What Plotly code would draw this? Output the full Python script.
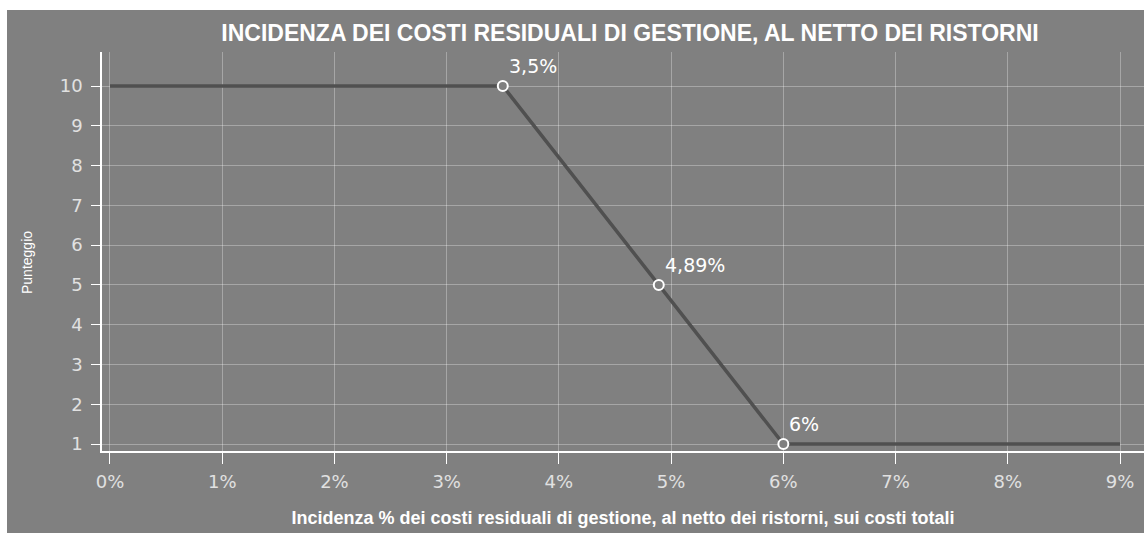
import plotly.graph_objects as go

# Data
x_pct = [0, 3.5, 4.89, 6, 9]
punteggio = [10, 10, 5, 1, 1]
key_x = [3.5, 4.89, 6]
key_y = [10, 5, 1]
key_labels = ["3,5%", "4,89%", "6%"]
x_ticks = [0, 1, 2, 3, 4, 5, 6, 7, 8, 9]
x_ticktext = ["0%", "1%", "2%", "3%", "4%", "5%", "6%", "7%", "8%", "9%"]
y_ticks = [1, 2, 3, 4, 5, 6, 7, 8, 9, 10]

GRAY = "rgb(128,128,128)"
W, H = 1144, 533
L, R, T, B = 102, 0, 52, 82
pw, ph = W - L - R, H - T - B

fig = go.Figure()
fig.add_trace(go.Scatter(
    x=x_pct, y=punteggio, mode="lines",
    line=dict(color="rgb(80,80,80)", width=3.5),
    hoverinfo="skip", showlegend=False))
fig.add_trace(go.Scatter(
    x=key_x, y=key_y, mode="markers",
    marker=dict(symbol="circle", size=10, color=GRAY,
                line=dict(color="white", width=2)),
    showlegend=False))

for xv, yv, lab in zip(key_x, key_y, key_labels):
    fig.add_annotation(x=xv, y=yv, text=lab, showarrow=False,
                       xanchor="left", yanchor="bottom", xshift=4, yshift=7,
                       font=dict(family="DejaVu Sans", size=19, color="white"))

# y axis title (placed slightly below plot centre as in the reference)
fig.add_annotation(x=(27 - L) / pw, y=(T + ph - 263) / ph, xref="paper", yref="paper",
                   text="Punteggio", textangle=-90, showarrow=False,
                   xanchor="center", yanchor="middle",
                   font=dict(family="Liberation Sans", size=14, color="white"))

# gray background region (white strip at top and left of image)
fig.add_shape(type="rect", xref="paper", yref="paper", layer="below",
              x0=(7 - L) / pw, x1=1.05, y0=-(B + 10) / ph, y1=(ph + T - 10) / ph,
              fillcolor=GRAY, line=dict(width=0))

fig.update_layout(
    width=W, height=H,
    margin=dict(l=L, r=R, t=T, b=B),
    paper_bgcolor="white", plot_bgcolor=GRAY,
    separators=",.",
    title=dict(text="<b>INCIDENZA DEI COSTI RESIDUALI DI GESTIONE, AL NETTO DEI RISTORNI</b>",
               x=630 / W, xanchor="center", y=1 - 33 / H, yanchor="middle",
               font=dict(family="Liberation Sans", size=23, color="white")),
    xaxis=dict(range=[-8 / 112.3, 9 + 24 / 112.3], tickvals=x_ticks, ticktext=x_ticktext,
               showline=True, linecolor="white", linewidth=1.5,
               ticks="outside", ticklen=11, tickcolor="white", tickwidth=1,
               ticklabelstandoff=3,
               showgrid=True, gridcolor="rgba(255,255,255,0.3)", gridwidth=1,
               zeroline=False,
               tickfont=dict(family="DejaVu Sans", size=18, color="rgb(225,225,225)"),
               title=dict(text="<b>Incidenza % dei costi residuali di gestione, al netto dei ristorni, sui costi totali</b>",
                          font=dict(family="Liberation Sans", size=18, color="white"), standoff=20)),
    yaxis=dict(range=[1 - 7 / 39.78, 10 + 34 / 39.78], tickvals=y_ticks,
               showline=True, linecolor="white", linewidth=1.5,
               ticks="outside", ticklen=9, tickcolor="white", tickwidth=1,
               ticklabelstandoff=5,
               showgrid=True, gridcolor="rgba(255,255,255,0.3)", gridwidth=1,
               zeroline=False,
               tickfont=dict(family="DejaVu Sans", size=18, color="rgb(225,225,225)")),
)

fig.write_html("out.html", config={"displayModeBar": False},
               post_script="document.body.style.margin='0';document.body.style.overflow='hidden';")
